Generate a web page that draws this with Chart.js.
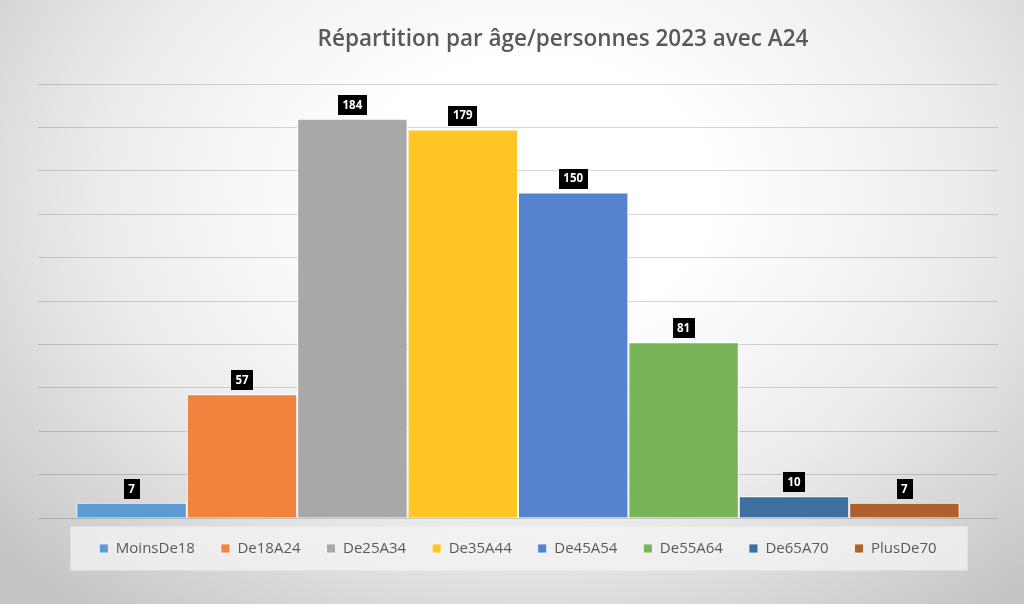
<!DOCTYPE html>
<html>
<head>
<meta charset="utf-8">
<script src="https://cdn.jsdelivr.net/npm/chart.js@4/dist/chart.umd.min.js"></script>
<style>
html,body{margin:0;padding:0;}
body{width:1024px;height:604px;overflow:hidden;
background:radial-gradient(ellipse 70% 90% at 52% 32%, #ffffff 25%, #ececec 60%, #c4c4c4 100%);}
#wrap{position:relative;width:1024px;height:604px;}
</style>
</head>
<body>
<div id="wrap"><canvas id="c" width="1024" height="604"></canvas></div>
<script>
const titleText = "Répartition par âge/personnes 2023 avec A24";
const categories = [""];
const seriesNames = ["MoinsDe18","De18A24","De25A34","De35A44","De45A54","De55A64","De65A70","PlusDe70"];
const seriesValues = [7, 57, 184, 179, 150, 81, 10, 7];
const seriesColors = ["#5B9BD5","#F0843F","#A8A8A8","#FFC626","#5683D0","#79B558","#3D6F9F","#B0602B"];
const yMin = 0, yMax = 200, yStep = 20;

const datasets = seriesNames.map((n,i)=>({
  label:n,
  data:[seriesValues[i]],
  backgroundColor:seriesColors[i],
  borderColor:"#ffffff",
  borderWidth:{left:1,right:1,top:1,bottom:0},
  categoryPercentage:0.92,
  barPercentage:1.0
}));

const LEGEND_SHIFT = 3;

const legendShift = {
  id:'legendShift',
  afterUpdate(chart){
    const lg = chart.legend;
    if(!lg) return;
    lg.top -= LEGEND_SHIFT; lg.bottom -= LEGEND_SHIFT;
    (lg.legendHitBoxes||[]).forEach(h=>{ h.top -= LEGEND_SHIFT; });
  }
};

const titlePlugin = {
  id:'customTitle',
  afterDraw(chart){
    const ctx = chart.ctx, a = chart.chartArea;
    ctx.save();
    ctx.font = "600 22.5px 'Open Sans'";
    ctx.fillStyle = "#595959";
    ctx.textAlign = "center";
    ctx.textBaseline = "middle";
    ctx.fillText(titleText, (a.left+a.right)/2 + 45, 40);
    ctx.restore();
  }
};

const legendBg = {
  id:'legendBg',
  beforeDraw(chart){
    const lg = chart.legend;
    if(!lg || !lg.legendHitBoxes || !lg.legendHitBoxes.length) return;
    const hb = lg.legendHitBoxes;
    let l = Infinity, r = -Infinity, cy = 0;
    hb.forEach(h=>{ l=Math.min(l,h.left); r=Math.max(r,h.left+h.width); cy = h.top + h.height/2; });
    const ctx = chart.ctx;
    ctx.save();
    ctx.fillStyle = "rgba(244,244,244,0.75)";
    ctx.fillRect(l-29, cy-22, (r-l)+60, 44);
    ctx.restore();
  }
};

const labelPlugin = {
  id:'valueLabels',
  afterDatasetsDraw(chart){
    const ctx = chart.ctx;
    ctx.save();
    ctx.font = "bold 11.5px 'Open Sans'";
    ctx.textAlign = "center";
    ctx.textBaseline = "middle";
    chart.data.datasets.forEach((ds,i)=>{
      const meta = chart.getDatasetMeta(i);
      meta.data.forEach((el,j)=>{
        const txt = String(ds.data[j]);
        const w = ctx.measureText(txt).width + 9;
        const h = 20;
        const x = el.x, yb = el.y - 4;
        ctx.fillStyle = "#000000";
        ctx.fillRect(Math.round(x - w/2), Math.round(yb - h), Math.round(w), h);
        ctx.fillStyle = "#ffffff";
        ctx.fillText(txt, x, yb - h/2 + 0.5);
      });
    });
    ctx.restore();
  }
};

new Chart(document.getElementById('c'), {
  type:'bar',
  data:{labels:categories, datasets:datasets},
  options:{
    responsive:false,
    animation:false,
    layout:{padding:{left:38,right:26,top:84,bottom:35}},
    scales:{
      x:{display:false, stacked:false},
      y:{min:yMin,max:yMax,
         ticks:{display:false,stepSize:yStep},
         border:{display:false},
         grid:{color:"rgba(0,0,0,0.16)",lineWidth:1,drawTicks:false}}
    },
    plugins:{
      title:{display:false},
      tooltip:{enabled:false},
      legend:{display:true,position:'bottom',
        labels:{boxWidth:9,boxHeight:9,padding:26,color:"#595959",
          font:{family:"'Open Sans'",size:15}}}
    }
  },
  plugins:[legendShift,legendBg,titlePlugin,labelPlugin]
});
</script>
</body>
</html>
